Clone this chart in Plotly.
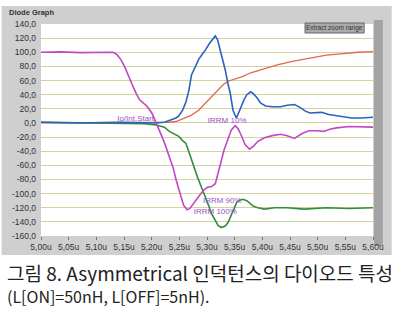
import plotly.graph_objects as go

# ---------------- data ----------------
mag_t = [5.000, 5.036, 5.071, 5.107, 5.130, 5.137, 5.144, 5.151, 5.158, 5.166, 5.173, 5.178,
         5.185, 5.191, 5.196, 5.201, 5.208, 5.214, 5.219, 5.224, 5.228, 5.233, 5.239, 5.244,
         5.249, 5.253, 5.258, 5.264, 5.269, 5.276, 5.285, 5.294, 5.301, 5.308, 5.315, 5.321,
         5.326, 5.331, 5.337, 5.344, 5.351, 5.356, 5.361, 5.369, 5.377, 5.385, 5.392, 5.404,
         5.418, 5.433, 5.445, 5.458, 5.472, 5.484, 5.499, 5.511, 5.522, 5.534, 5.557, 5.579, 5.600]
mag_v = [100, 100.5, 99.5, 100, 100, 97, 90, 80, 66, 52, 40, 33,
         28, 24, 19, 13, 0, -10, -20, -30, -39, -52, -64, -80,
         -95, -104, -117, -123, -121, -113, -104, -95, -91, -90, -86, -68,
         -52, -38, -25, -10, -4, -8, -16, -31, -37, -32, -26, -21,
         -18, -16, -18, -22, -15, -11, -11, -12, -9, -7, -5, -6, -6]

blue_t = [5.000, 5.071, 5.142, 5.196, 5.208, 5.223, 5.235, 5.244, 5.249, 5.256, 5.262, 5.267,
          5.272, 5.279, 5.285, 5.292, 5.297, 5.304, 5.310, 5.315, 5.319, 5.324, 5.329, 5.333,
          5.338, 5.342, 5.347, 5.353, 5.356, 5.361, 5.367, 5.372, 5.379, 5.384, 5.390, 5.397,
          5.406, 5.418, 5.433, 5.445, 5.458, 5.468, 5.477, 5.486, 5.495, 5.507, 5.520, 5.534,
          5.547, 5.561, 5.579, 5.600]
blue_v = [1, 0, 1, 0, 0, 1, 4, 7, 10, 18, 30, 45,
          68, 80, 90, 98, 103, 112, 118, 123, 118, 103, 85, 75,
          55, 42, 18, 7, 12, 22, 33, 40, 44, 41, 36, 28,
          24, 23, 23, 25, 26, 22, 17, 14, 14, 15, 12, 10,
          8, 7, 7, 8]

red_t = [5.000, 5.142, 5.214, 5.232, 5.244, 5.258, 5.272, 5.285, 5.297, 5.308, 5.320, 5.329,
         5.338, 5.351, 5.365, 5.379, 5.400, 5.427, 5.454, 5.486, 5.516, 5.547, 5.573, 5.600]
red_v = [0, 0, 0, 1, 2, 6, 11, 18, 28, 37, 47, 54,
         59, 62, 66, 71, 76, 82, 87, 92, 96, 98, 100, 101]

green_t = [5.000, 5.071, 5.142, 5.187, 5.208, 5.223, 5.232, 5.240, 5.249, 5.256, 5.262, 5.269,
           5.276, 5.283, 5.290, 5.297, 5.303, 5.308, 5.315, 5.320, 5.326, 5.333, 5.338, 5.344,
           5.349, 5.354, 5.360, 5.365, 5.372, 5.377, 5.384, 5.392, 5.404, 5.422, 5.445, 5.475,
           5.516, 5.557, 5.600]
green_v = [1, 0, 0, -1, -3, -6, -12, -15, -19, -25, -29, -45,
           -62, -77, -91, -104, -117, -128, -138, -145, -148, -146, -141, -130,
           -119, -112, -109, -108, -110, -113, -118, -120, -122, -120, -120, -122,
           -120, -121, -120]

cursor_labels = ["Io/Int.Start", "IRRM 10%", "IRRM 90%", "IRRM 100%"]
cursor_t = [5.171, 5.3365, 5.3276, 5.315]
cursor_v = [6, 3, -110, -126]

y_ticks = [140, 120, 100, 80, 60, 40, 20, 0, -20, -40, -60, -80, -100, -120, -140, -160]
y_ticktext = ["140,0", "120,0", "100,0", "80,0", "60,0", "40,0", "20,0", "0,0", "-20,0", "-40,0",
              "-60,0", "-80,0", "-100,0", "-120,0", "-140,0", "-160,0"]
x_ticks = [5.00, 5.05, 5.10, 5.15, 5.20, 5.25, 5.30, 5.35, 5.40, 5.45, 5.50, 5.55, 5.60]
x_ticktext = ["5,00u", "5,05u", "5,10u", "5,15u", "5,20u", "5,25u", "5,30u", "5,35u",
              "5,40u", "5,45u", "5,50u", "5,55u", "5,60u"]

title_text = "Diode Graph"
button_text = "Extract zoom range"
caption1 = "그림 8. Asymmetrical 인덕턴스의 다이오드 특성"
caption2 = "(L[ON]=50nH, L[OFF]=5nH)."

# ---------------- layout geometry (pixels) ----------------
W, H = 396, 311
L, R, T, B = 40, 377, 24, 236


def px(x):
    return (x - L) / (R - L)


def py(y):
    return (B - y) / (B - T)


fig = go.Figure()
fig.add_trace(go.Scatter(x=red_t, y=red_v, mode="lines", line=dict(color="#e0674f", width=1.3)))
fig.add_trace(go.Scatter(x=green_t, y=green_v, mode="lines", line=dict(color="#2f8f3a", width=1.6)))
fig.add_trace(go.Scatter(x=blue_t, y=blue_v, mode="lines", line=dict(color="#2a62bf", width=1.6)))
fig.add_trace(go.Scatter(x=mag_t, y=mag_v, mode="lines", line=dict(color="#c247c4", width=1.6)))
fig.add_trace(go.Scatter(x=cursor_t, y=cursor_v, mode="text", text=cursor_labels,
                         textfont=dict(family="Liberation Sans", size=8, color="#9a4fc4")))

shapes = [
    # gray panel
    dict(type="rect", xref="paper", yref="paper", x0=px(0), x1=px(396), y0=py(255), y1=py(6),
         fillcolor="#cfcfcf", line=dict(width=0), layer="below"),
    # white plot area
    dict(type="rect", xref="paper", yref="paper", x0=0, x1=1, y0=0, y1=1,
         fillcolor="#ffffff", line=dict(width=0), layer="below"),
    # dark strip at right
    dict(type="rect", xref="paper", yref="paper", x0=px(378), x1=px(387), y0=py(246), y1=py(20),
         fillcolor="#a3a3a3", line=dict(width=0), layer="below"),
    # button
    dict(type="rect", xref="paper", yref="paper", x0=px(308), x1=px(368), y0=py(33), y1=py(23),
         fillcolor="#ababab", line=dict(color="#666666", width=1), layer="above"),
]

annotations = [
    dict(text="<b>" + title_text + "</b>", xref="paper", yref="paper", x=px(5), y=py(12),
         xanchor="left", yanchor="middle", showarrow=False,
         font=dict(family="Liberation Sans", size=7.5, color="#333333")),
    dict(text=button_text, xref="paper", yref="paper", x=px(338), y=py(28),
         xanchor="center", yanchor="middle", showarrow=False,
         font=dict(family="Liberation Sans", size=6.5, color="#333333")),
    dict(text=caption1, xref="paper", yref="paper", x=px(3), y=py(272),
         xanchor="left", yanchor="middle", showarrow=False,
         font=dict(family="Noto Sans CJK KR", size=19, color="#222222")),
    dict(text=caption2, xref="paper", yref="paper", x=px(3), y=py(296),
         xanchor="left", yanchor="middle", showarrow=False,
         font=dict(family="Noto Sans CJK KR", size=16, color="#222222")),
]

fig.update_layout(
    width=W, height=H,
    margin=dict(l=L, r=W - R, t=T, b=H - B, pad=0),
    paper_bgcolor="#ffffff", plot_bgcolor="rgba(0,0,0,0)",
    showlegend=False,
    shapes=shapes, annotations=annotations,
    xaxis=dict(range=[5.0, 5.6], tickvals=x_ticks, ticktext=x_ticktext, showgrid=False,
               zeroline=False, ticks="outside", ticklen=3, tickcolor="#777777",
               tickfont=dict(family="Liberation Sans", size=8.5, color="#333333"),
               showline=False, fixedrange=True),
    yaxis=dict(range=[-160, 140], tickvals=y_ticks, ticktext=y_ticktext, showgrid=True,
               gridcolor="#d6d29c", gridwidth=1, zeroline=False, ticks="", ticklabelstandoff=4,
               tickfont=dict(family="Liberation Sans", size=8.5, color="#333333"),
               showline=False, fixedrange=True),
)

fig.write_html("out.html")
